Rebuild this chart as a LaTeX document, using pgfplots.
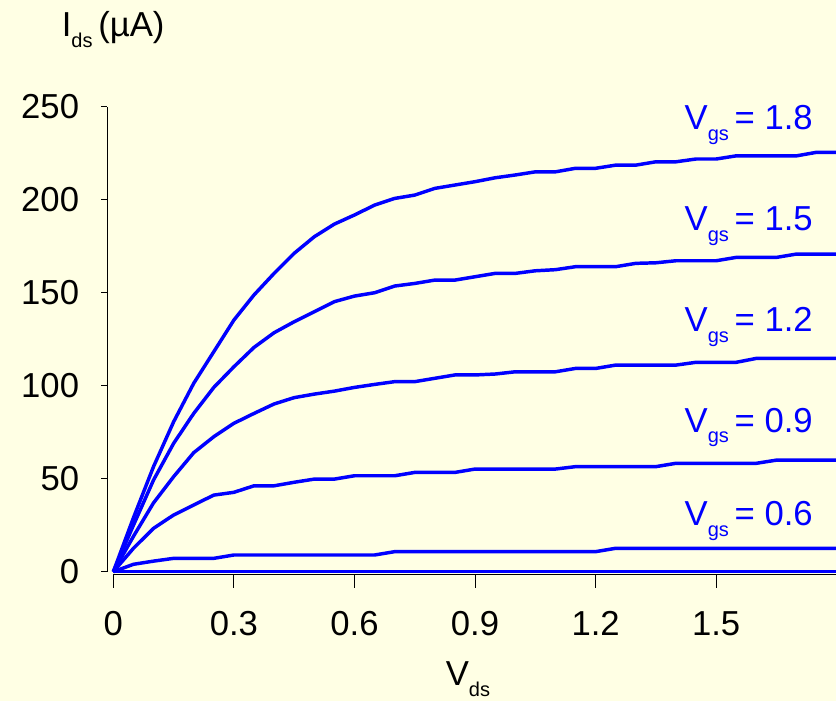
\documentclass[border=0pt]{standalone}
\usepackage{fontspec}
\setmainfont{Liberation Sans}
\usepackage{pgfplots}
\usepackage{pgfplotstable}
\pgfplotsset{compat=1.18}
\definecolor{bgYellow}{RGB}{255,255,228}
\definecolor{curveBlue}{RGB}{0,0,255}
\newcommand{\lbl}{\fontsize{26}{31}\selectfont}
\newcommand{\sub}[1]{\raisebox{-8pt}{\fontsize{15}{18}\selectfont #1}}
\pgfplotsset{ivline/.style={curveBlue, line width=2.6pt, line join=round, line cap=butt, mark=none}}

% Vds, then Ids for Vgs = 1.8, 1.5, 1.2, 0.9, 0.6 and the bottom (zero) curve
\pgfplotstableread{
x    a     b     c     d    e    f
0    0     0     0     0    0    0
0.05 29.0  25.0  19.0  12.6 4.0  0
0.10 56.5  49.3  37.0  23.3 5.7  0
0.15 80.6  69.0  51.1  30.5 7.2  0
0.20 101.3 85.1  64.0  35.9 7.2  0
0.25 118.3 99.1  72.6  41.2 7.2  0
0.30 135.3 110.2 79.8  42.7 9.0  0
0.35 148.8 120.6 85.1  46.2 9.0  0
0.40 160.4 128.5 90.2  46.2 9.0  0
0.45 171.2 134.4 93.6  48.1 9.0  0
0.50 180.1 139.8 95.5  49.8 9.0  0
0.55 186.9 145.2 97.1  49.8 9.0  0
0.60 191.8 148.2 99.1  51.6 9.0  0
0.65 197.1 150.0 100.7 51.6 9.0  0
0.70 200.7 153.6 102.2 51.6 10.8 0
0.75 202.5 155.0 102.2 53.4 10.8 0
0.80 206.1 156.8 104.0 53.4 10.8 0
0.85 207.9 156.8 105.8 53.4 10.8 0
0.90 209.7 158.6 105.8 55.2 10.8 0
0.95 211.8 160.4 106.3 55.2 10.8 0
1.00 213.3 160.4 107.5 55.2 10.8 0
1.05 215.0 161.8 107.5 55.2 10.8 0
1.10 215.0 162.4 107.5 55.2 10.8 0
1.15 216.9 164.0 109.3 56.5 10.8 0
1.20 216.9 164.0 109.3 56.5 10.8 0
1.25 218.6 164.0 111.1 56.5 12.6 0
1.30 218.6 165.8 111.1 56.5 12.6 0
1.35 220.4 166.1 111.1 56.5 12.6 0
1.40 220.4 167.2 111.1 58.3 12.6 0
1.45 221.9 167.2 112.6 58.3 12.6 0
1.50 221.9 167.2 112.6 58.3 12.6 0
1.55 223.6 169.0 112.6 58.3 12.6 0
1.60 223.6 169.0 114.7 58.3 12.6 0
1.65 223.6 169.0 114.7 60.0 12.6 0
1.70 223.6 170.8 114.7 60.0 12.6 0
1.75 225.5 170.8 114.7 60.0 12.6 0
1.80 225.5 170.8 114.7 60.0 12.6 0
}\ivcurves

\begin{document}
\begin{tikzpicture}
\fill[bgYellow] (-85pt,-97pt) rectangle (542pt,428.8pt);
\begin{axis}[
  at={(0,0)}, anchor=south west,
  scale only axis,
  width=542.55pt, height=348.75pt,
  xmin=0, xmax=1.8, ymin=0, ymax=250,
  clip=false,
  axis lines*=left,
  axis y line shift=4.5pt,
  axis x line shift=2pt,
  axis line style={black, line width=0.9pt},
  xtick={0,0.3,0.6,0.9,1.2,1.5},
  xticklabels={0,0.3,0.6,0.9,1.2,1.5},
  ytick={0,50,100,150,200,250},
  tick align=outside,
  major tick length=10pt,
  ytick style={/pgfplots/major tick length=4.5pt},
  tick style={black, line width=0.75pt},
  /pgf/number format/assume math mode=true,
  tick label style={font=\lbl, inner sep=0pt},
  xticklabel style={anchor=north, yshift=-17.5pt},
  yticklabel style={anchor=east, xshift=-11pt},
  every axis x label/.style={at={(rel axis cs:0.5,0)}, anchor=base, xshift=-5.3pt, yshift=-85.5pt, font=\lbl},
  every axis y label/.style={at={(rel axis cs:0,1)}, anchor=base west, xshift=-42.2pt, yshift=52.5pt, font=\lbl},
  xlabel={V\sub{ds}},
  ylabel={I\sub{ds}\,(µA)},
]
\addplot[ivline] table[x=x, y=f] {\ivcurves};
\addplot[ivline] table[x=x, y=e] {\ivcurves};
\addplot[ivline] table[x=x, y=d] {\ivcurves};
\addplot[ivline] table[x=x, y=c] {\ivcurves};
\addplot[ivline] table[x=x, y=b] {\ivcurves};
\addplot[ivline] table[x=x, y=a] {\ivcurves};

\node[anchor=base east, inner sep=0pt, text=curveBlue, font=\lbl] at (axis cs:1.741,237.5) {V\sub{gs}\,= 1.8};
\node[anchor=base east, inner sep=0pt, text=curveBlue, font=\lbl] at (axis cs:1.741,183.3) {V\sub{gs}\,= 1.5};
\node[anchor=base east, inner sep=0pt, text=curveBlue, font=\lbl] at (axis cs:1.741,128.9) {V\sub{gs}\,= 1.2};
\node[anchor=base east, inner sep=0pt, text=curveBlue, font=\lbl] at (axis cs:1.741,75.1) {V\sub{gs}\,= 0.9};
\node[anchor=base east, inner sep=0pt, text=curveBlue, font=\lbl] at (axis cs:1.741,24.6) {V\sub{gs}\,= 0.6};
\end{axis}
\pgfresetboundingbox
\path[use as bounding box] (-85pt,-97pt) rectangle (542pt,428.8pt);
\end{tikzpicture}
\end{document}
